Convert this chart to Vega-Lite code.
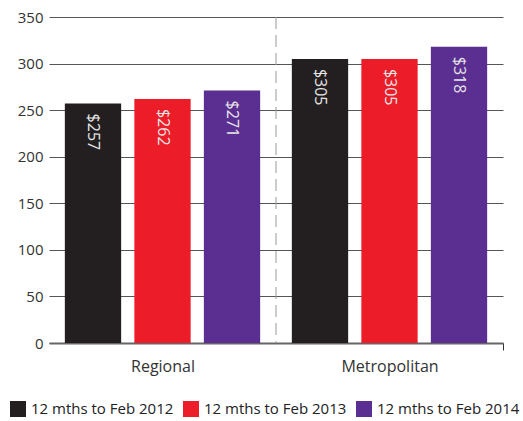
{
  "$schema": "https://vega.github.io/schema/vega-lite/v6.json",
  "width": 454,
  "height": 326,
  "autosize": "none",
  "padding": {"left": 49, "top": 17, "right": 20, "bottom": 78},
  "background": "white",
  "config": {"view": {"stroke": null}, "font": "Open Sans"},
  "data": {
    "values": [
      {"group": "Regional", "period": "12 mths to Feb 2012", "value": 257},
      {"group": "Regional", "period": "12 mths to Feb 2013", "value": 262},
      {"group": "Regional", "period": "12 mths to Feb 2014", "value": 271},
      {"group": "Metropolitan", "period": "12 mths to Feb 2012", "value": 305},
      {"group": "Metropolitan", "period": "12 mths to Feb 2013", "value": 305},
      {"group": "Metropolitan", "period": "12 mths to Feb 2014", "value": 318}
    ]
  },
  "encoding": {
    "x": {
      "field": "group", "type": "nominal", "sort": ["Regional", "Metropolitan"],
      "scale": {"paddingInner": 0, "paddingOuter": 0},
      "axis": {
        "title": null, "labelAngle": 0, "labelFontSize": 16, "labelColor": "#333", "labelPadding": 8,
        "domainColor": "#666", "domainWidth": 2,
        "tickBand": "extent", "tickExtra": false, "tickSize": 7, "tickColor": "#333", "tickWidth": 1,
        "tickOpacity": {"condition": {"test": "datum.value === 'Metropolitan'", "value": 1}, "value": 0}
      }
    },
    "xOffset": {
      "field": "period", "type": "nominal",
      "scale": {"paddingInner": 0.19, "paddingOuter": 0.228}
    },
    "y": {
      "field": "value", "type": "quantitative",
      "scale": {"domain": [0, 350], "nice": false},
      "axis": {
        "title": null, "values": [0, 50, 100, 150, 200, 250, 300, 350],
        "grid": true, "gridColor": "#555", "gridWidth": 1,
        "domain": false, "ticks": false, "labelPadding": 6,
        "labelFontSize": 15, "labelColor": "#333"
      }
    }
  },
  "layer": [
    {
      "mark": {"type": "bar"},
      "encoding": {
        "color": {
          "field": "period", "type": "nominal",
          "scale": {
            "domain": ["12 mths to Feb 2012", "12 mths to Feb 2013", "12 mths to Feb 2014"],
            "range": ["#231f20", "#ed1c29", "#5b2e91"]
          },
          "legend": {
            "title": null, "orient": "none", "legendX": -39, "legendY": 384,
            "direction": "horizontal", "symbolType": "square", "symbolSize": 256,
            "symbolStrokeWidth": 0, "symbolOpacity": 1, "labelFontSize": 15,
            "labelColor": "#222", "labelOffset": 5, "columnPadding": 9
          }
        }
      }
    },
    {
      "mark": {"type": "text", "angle": 90, "align": "left", "baseline": "middle", "dx": 10, "fontSize": 16, "color": "#e6e6e6"},
      "encoding": {"text": {"field": "value", "type": "quantitative", "format": "$d"}}
    },
    {
      "data": {"values": [{"group": "Metropolitan", "top": 350, "bottom": 0}]},
      "mark": {"type": "rule", "strokeDash": [12, 6], "color": "#999", "strokeWidth": 1},
      "encoding": {
        "x": {"field": "group", "type": "nominal", "bandPosition": 0},
        "xOffset": null,
        "y": {"field": "top", "type": "quantitative"},
        "y2": {"field": "bottom"}
      }
    }
  ]
}
